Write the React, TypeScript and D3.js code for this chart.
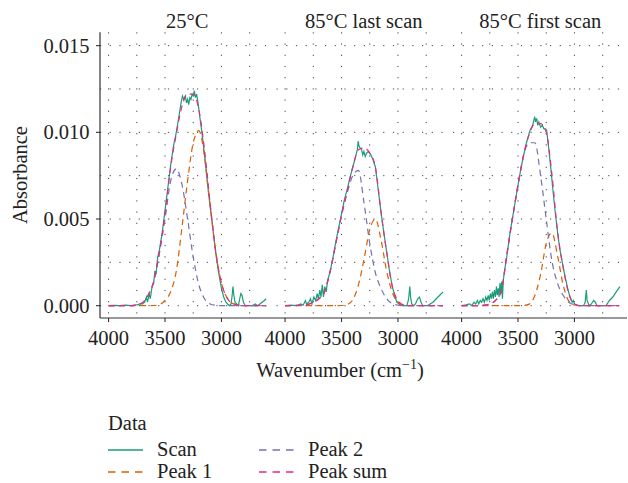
import React from 'react';
import * as d3 from 'd3';

const panelTitles = ['25°C', '85°C last scan', '85°C first scan'];
const xTicks = [4000, 3500, 3000];
const xGrid = [4000, 3750, 3500, 3250, 3000, 2750];
const yTicks = [0, 0.005, 0.01, 0.015];
const yGrid = [0, 0.0025, 0.005, 0.0075, 0.01, 0.0125, 0.015];

// wavenumbers of the fitted curves
const fitWave = [4000, 3900, 3800, 3750, 3700, 3650, 3600, 3550, 3500, 3450, 3400, 3350, 3300, 3250, 3200, 3150, 3100, 3050, 3000, 2950, 2900, 2800, 2700, 2604];

// 25 C
const peak1At25 = [0, 0, 0, 0, 0, 0, 0.00001, 0.00006, 0.0003, 0.0008, 0.002, 0.0045, 0.0072, 0.0094, 0.0101, 0.0086, 0.0058, 0.0031, 0.0013, 0.00045, 0.00012, 0, 0, 0];
const peak2At25 = [0, 0, 0, 0.00005, 0.00017, 0.0006, 0.0014, 0.003, 0.005, 0.0072, 0.0079, 0.007, 0.005, 0.0028, 0.0012, 0.0004, 0.0001, 0.00002, 0, 0, 0, 0, 0, 0];
const sumAt25 = [0, 0, 0, 0.00005, 0.00017, 0.0006, 0.0014, 0.0031, 0.0053, 0.008, 0.0099, 0.0115, 0.0122, 0.0122, 0.0113, 0.009, 0.0059, 0.0031, 0.0013, 0.00045, 0.00012, 0, 0, 0];
const scanAt25: [number, number][] = [
  [4000, 0], [3950, 0.00002], [3900, 0], [3850, 0.00003], [3800, 0.00001], [3750, 0.00005], [3720, 0.0001],
  [3700, 0.0001], [3680, 0.0002], [3665, 0.0005], [3655, 0.0002], [3640, 0.0007], [3630, 0.0004], [3615, 0.0011],
  [3600, 0.0013], [3590, 0.002], [3580, 0.0018], [3565, 0.0028], [3550, 0.0032], [3525, 0.0042], [3500, 0.0055],
  [3475, 0.0068], [3450, 0.0081], [3425, 0.0092], [3400, 0.01], [3375, 0.011], [3355, 0.0118], [3345, 0.0121],
  [3335, 0.0119], [3320, 0.0121], [3310, 0.0117], [3300, 0.0119], [3290, 0.0116], [3280, 0.012], [3270, 0.0119],
  [3260, 0.0122], [3250, 0.0121], [3240, 0.0124], [3230, 0.012], [3220, 0.0122], [3205, 0.0116], [3190, 0.0108],
  [3175, 0.0101], [3150, 0.0087], [3125, 0.0071], [3100, 0.0057], [3075, 0.0044], [3050, 0.003], [3025, 0.0019],
  [3000, 0.001], [2980, 0.0005], [2960, 0.0002], [2945, 0.0001], [2930, 0], [2915, 0.0001], [2905, 0.0006],
  [2898, 0.0011], [2890, 0.0006], [2880, 0.0002], [2865, 0.0001], [2850, 0], [2838, 0.0004], [2828, 0.0007],
  [2818, 0.0006], [2805, 0.0002], [2790, 0], [2760, 0], [2730, 0], [2700, 0.0001], [2680, 0], [2660, 0.0001],
  [2640, 0.0002], [2620, 0.0003], [2604, 0.0004],
];

// 85 C last scan
const peak1Last = [0, 0, 0, 0, 0, 0, 0, 0, 0.00001, 0.00007, 0.00034, 0.0012, 0.0027, 0.0044, 0.005, 0.0038, 0.002, 0.00075, 0.0002, 0.00003, 0, 0, 0, 0];
const peak2Last = [0, 0.00002, 0.00008, 0.0002, 0.0004, 0.0008, 0.002, 0.0036, 0.0052, 0.0065, 0.0075, 0.0078, 0.0059, 0.0036, 0.0019, 0.001, 0.0004, 0.00012, 0.00003, 0, 0, 0, 0, 0];
const sumLast = [0, 0.00002, 0.00008, 0.0002, 0.0004, 0.0008, 0.002, 0.0036, 0.0052, 0.0066, 0.008, 0.009, 0.0091, 0.0088, 0.008, 0.0054, 0.0031, 0.0011, 0.0003, 0.00005, 0, 0, 0, 0];
const scanLast: [number, number][] = [
  [4000, 0], [3950, 0.00003], [3900, 0], [3860, 0.0001], [3840, 0.00003], [3820, 0.0003], [3810, 0.0001],
  [3790, 0.0002], [3775, 0.0004], [3762, 0.0001], [3745, 0.0005], [3730, 0.0003], [3715, 0.0007], [3705, 0.0004],
  [3692, 0.0009], [3682, 0.0005], [3670, 0.0012], [3660, 0.0005], [3648, 0.0011], [3635, 0.0008], [3625, 0.0014],
  [3600, 0.002], [3575, 0.0028], [3550, 0.0037], [3525, 0.0045], [3500, 0.0053], [3475, 0.0061], [3450, 0.0067],
  [3425, 0.0074], [3400, 0.008], [3375, 0.0086], [3360, 0.009], [3352, 0.0095], [3345, 0.0092], [3335, 0.0091],
  [3322, 0.009], [3312, 0.0087], [3302, 0.0089], [3290, 0.0086], [3278, 0.0088], [3262, 0.0089], [3240, 0.0087],
  [3220, 0.0084], [3200, 0.008], [3175, 0.0067], [3150, 0.0054], [3125, 0.0042], [3100, 0.0031], [3075, 0.002],
  [3050, 0.0011], [3025, 0.0005], [3010, 0.0002], [2990, 0.0001], [2960, 0], [2920, 0], [2905, 0.0004],
  [2895, 0.0011], [2888, 0.0005], [2878, 0.0001], [2860, 0], [2845, 0.0001], [2825, 0.0004], [2810, 0.0005],
  [2795, 0.0002], [2780, 0], [2740, 0], [2715, 0.0001], [2690, 0.0002], [2660, 0.0004], [2630, 0.0006], [2600, 0.0008],
];

// 85 C first scan
const peak1First = [0, 0, 0, 0, 0, 0, 0, 0, 0, 0.00001, 0.00009, 0.0006, 0.0018, 0.0036, 0.0042, 0.0029, 0.0012, 0.00027, 0.00004, 0, 0, 0, 0, 0];
const peak2First = [0, 0, 0.00003, 0.0001, 0.0003, 0.0008, 0.0029, 0.005, 0.0069, 0.0087, 0.0094, 0.0094, 0.0075, 0.005, 0.0026, 0.0013, 0.0006, 0.0002, 0.00005, 0, 0, 0, 0, 0];
const sumFirst = [0, 0, 0.00003, 0.0001, 0.0003, 0.0008, 0.0029, 0.005, 0.007, 0.0087, 0.0099, 0.0105, 0.0105, 0.01, 0.0076, 0.0043, 0.0022, 0.0007, 0.0001, 0, 0, 0, 0, 0];
const scanFirst: [number, number][] = [
  [4000, 0], [3960, 0.00005], [3930, 0.0001], [3910, 0], [3890, 0.0002], [3875, 0.0001], [3860, 0.0003],
  [3848, 0.0001], [3835, 0.0003], [3822, 0.0002], [3810, 0.0004], [3798, 0.0002], [3786, 0.0005], [3775, 0.0003],
  [3764, 0.0006], [3755, 0.0003], [3745, 0.0007], [3736, 0.0004], [3727, 0.0008], [3718, 0.0004], [3709, 0.0009],
  [3700, 0.0005], [3691, 0.0011], [3683, 0.0006], [3675, 0.001], [3668, 0.0005], [3660, 0.0013], [3652, 0.0007],
  [3645, 0.0014], [3638, 0.0004], [3630, 0.0015], [3615, 0.0022], [3600, 0.0028], [3571, 0.0042], [3540, 0.0054],
  [3512, 0.0065], [3480, 0.0077], [3453, 0.0086], [3425, 0.0094], [3394, 0.0101], [3370, 0.0104], [3352, 0.0109],
  [3345, 0.0106], [3335, 0.0108], [3325, 0.0104], [3315, 0.0106], [3300, 0.0103], [3285, 0.0104], [3270, 0.0102],
  [3255, 0.0102], [3246, 0.0101], [3230, 0.0092], [3217, 0.0084], [3200, 0.0073], [3188, 0.0065], [3172, 0.0055],
  [3158, 0.0047], [3143, 0.0039], [3128, 0.0032], [3105, 0.0024], [3084, 0.0017], [3060, 0.001], [3040, 0.0005],
  [3020, 0.0002], [3010, 0.0003], [3000, 0.0001], [2960, 0], [2920, 0], [2905, 0.0002], [2895, 0.0009],
  [2888, 0.0003], [2870, 0], [2850, 0.0001], [2830, 0.0003], [2815, 0.0002], [2800, 0], [2760, 0], [2720, 0],
  [2690, 0.0003], [2660, 0.0005], [2630, 0.0008], [2597, 0.0011],
];

const seriesNames = ['Scan', 'Peak 1', 'Peak 2', 'Peak sum'];
const seriesColors = ['#1b9e77', '#d95f02', '#7570b3', '#e7298a'];

const panels = [
  { title: panelTitles[0], scan: scanAt25, fits: [peak1At25, peak2At25, sumAt25] },
  { title: panelTitles[1], scan: scanLast, fits: [peak1Last, peak2Last, sumLast] },
  { title: panelTitles[2], scan: scanFirst, fits: [peak1First, peak2First, sumFirst] },
];

const font = "'Liberation Serif', 'Times New Roman', serif";
const fs = 20.5;
const panelLeft = [100, 276.5, 453];
const panelW = 174.5;
const top = 32.3;
const bottom = 318;

const y = d3.scaleLinear().domain([-0.00071, 0.01577]).range([bottom, top]);

const App = () => {
  return (
    <svg width={628} height={483} style={{ position: 'absolute', left: 0, top: 0 }} fontFamily={font}>
      <rect width={628} height={483} fill="#fff" />
      {panels.map((p, pi) => {
        const x = d3.scaleLinear().domain([4076, 2530]).range([panelLeft[pi], panelLeft[pi] + panelW]);
        const line = d3.line<[number, number]>().x((d) => x(d[0])).y((d) => y(d[1]));
        const smooth = d3.line<[number, number]>().x((d) => x(d[0])).y((d) => y(d[1])).curve(d3.curveMonotoneX);
        return (
          <g key={pi}>
            {yGrid.map((v) => (
              <line key={'h' + v} x1={panelLeft[pi]} x2={panelLeft[pi] + panelW} y1={y(v)} y2={y(v)}
                stroke="#444" strokeWidth={1} strokeDasharray="1.2 8.5" />
            ))}
            {xGrid.map((w) => (
              <line key={'v' + w} x1={x(w)} x2={x(w)} y1={top} y2={bottom}
                stroke="#444" strokeWidth={1} strokeDasharray="1.2 10" />
            ))}
            <path d={line(p.scan) || ''} fill="none" stroke={seriesColors[0]} strokeWidth={1.2} />
            {p.fits.map((vals, fi) => (
              <path key={fi} d={smooth(fitWave.map((w, i) => [w, vals[i]] as [number, number])) || ''}
                fill="none" stroke={seriesColors[fi + 1]} strokeWidth={1.2} strokeDasharray="6 4.5" />
            ))}
            {xTicks.map((w) => (
              <g key={'t' + w}>
                <line x1={x(w)} x2={x(w)} y1={bottom} y2={bottom + 4} stroke="#333" strokeWidth={1.1} />
                <text x={x(w)} y={345} textAnchor="middle" fontSize={fs} fill="#222">{w}</text>
              </g>
            ))}
            <text x={panelLeft[pi] + panelW / 2} y={28} textAnchor="middle" fontSize={fs} fill="#222">{p.title}</text>
          </g>
        );
      })}
      <line x1={100} x2={100} y1={top} y2={bottom} stroke="#333" strokeWidth={1.2} />
      <line x1={100} x2={627} y1={bottom} y2={bottom} stroke="#333" strokeWidth={1.2} />
      {yTicks.map((v) => (
        <g key={'y' + v}>
          <line x1={96} x2={100} y1={y(v)} y2={y(v)} stroke="#333" strokeWidth={1.1} />
          <text x={89.5} y={y(v)} dy="0.34em" textAnchor="end" fontSize={fs} fill="#222">{d3.format('.3f')(v)}</text>
        </g>
      ))}
      <text transform="translate(27,175) rotate(-90)" textAnchor="middle" fontSize={fs} fill="#222">Absorbance</text>
      <text x={340} y={377} textAnchor="middle" fontSize={fs} fill="#222">
        Wavenumber (cm<tspan dy={-8} fontSize={14}>−1</tspan><tspan dy={8}>)</tspan>
      </text>
      <text x={108} y={430} fontSize={fs} fill="#222">Data</text>
      {seriesNames.map((name, i) => {
        const col = i === 0 || i === 1 ? 0 : 1;
        const row = i % 2;
        const kx = col === 0 ? 108 : 259;
        const ky = 450 + row * 22;
        return (
          <g key={name}>
            <line x1={kx} x2={kx + 35} y1={ky} y2={ky} stroke={seriesColors[i]} strokeWidth={1.3}
              strokeDasharray={i === 0 ? undefined : '7.5 6'} />
            <text x={kx + 49} y={ky + 6} fontSize={fs} fill="#222">{name}</text>
          </g>
        );
      })}
    </svg>
  );
};

export default App;
